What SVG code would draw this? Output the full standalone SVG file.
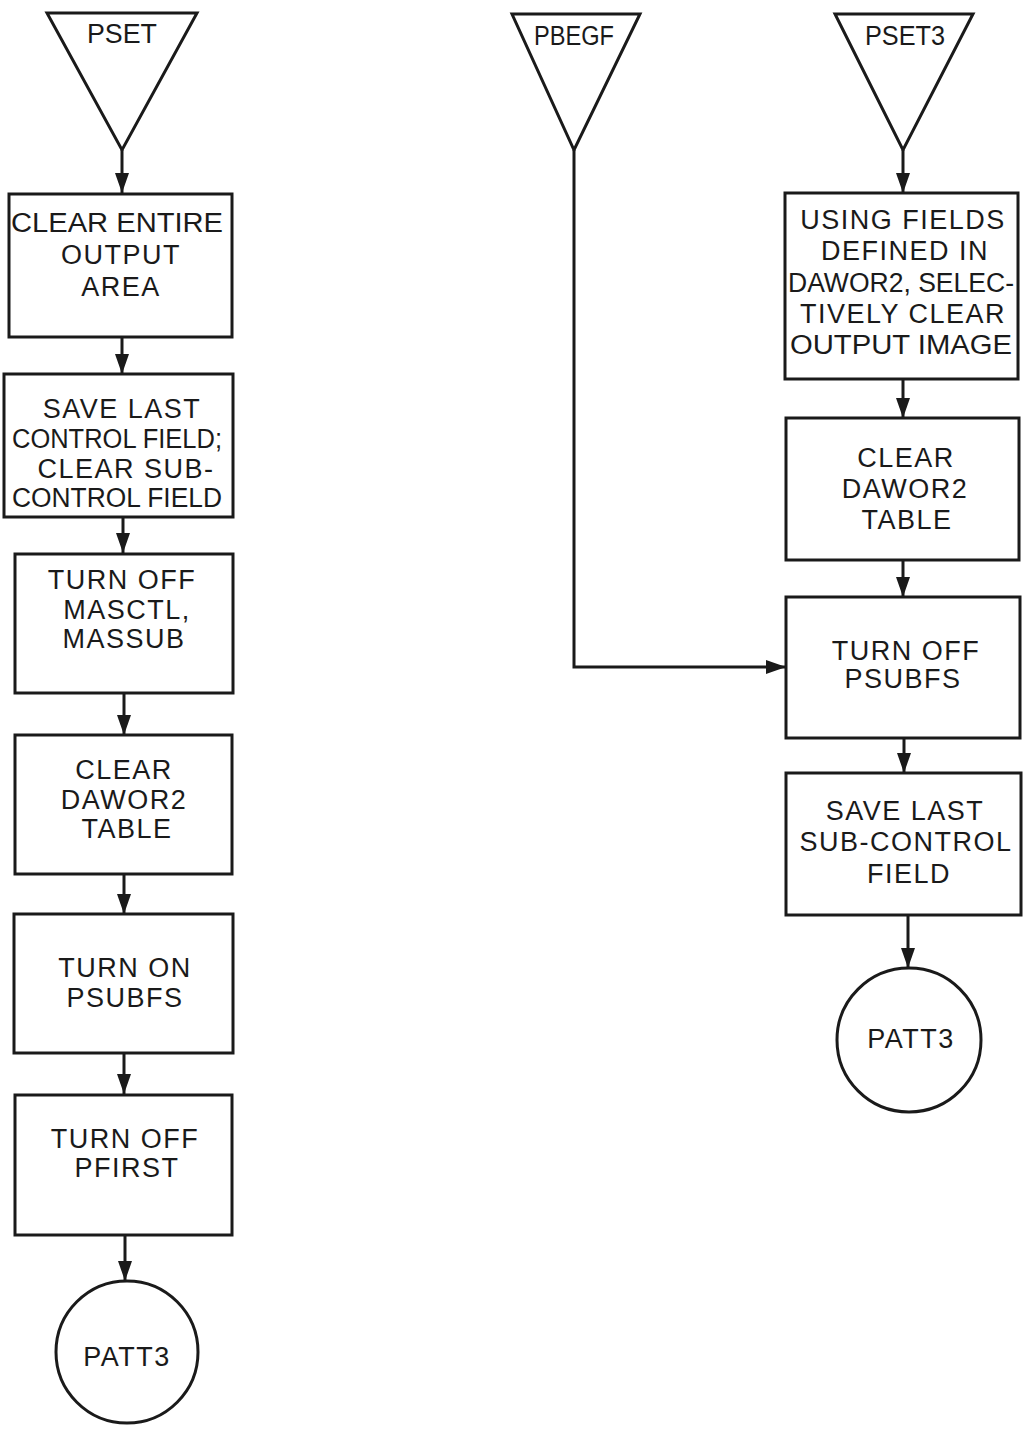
<svg xmlns="http://www.w3.org/2000/svg" width="1026" height="1434" viewBox="0 0 1026 1434">
<defs>
<style>
.shape{fill:#fff;stroke:#1a1a1a;stroke-width:3}
.conn{fill:none;stroke:#1a1a1a;stroke-width:3}
text{font-family:"Liberation Sans","DejaVu Sans",sans-serif;font-size:27px;fill:#1a1a1a;text-anchor:middle;letter-spacing:1.5px}
.fit{letter-spacing:0}
</style>
<marker id="ah" markerUnits="userSpaceOnUse" markerWidth="20" markerHeight="14" refX="20" refY="7" viewBox="0 0 20 14" orient="auto">
<path d="M0,0 L20,7 L0,14 Z" fill="#1a1a1a"/>
</marker>
</defs>
<rect width="1026" height="1434" fill="#fff"/>
<g id="connectors">
<line class="conn" x1="122" y1="150" x2="122" y2="193" marker-end="url(#ah)"/>
<line class="conn" x1="122" y1="337" x2="122" y2="374" marker-end="url(#ah)"/>
<line class="conn" x1="123" y1="517" x2="123" y2="553" marker-end="url(#ah)"/>
<line class="conn" x1="124" y1="693" x2="124" y2="735" marker-end="url(#ah)"/>
<line class="conn" x1="124" y1="874" x2="124" y2="914" marker-end="url(#ah)"/>
<line class="conn" x1="124" y1="1053" x2="124" y2="1094" marker-end="url(#ah)"/>
<line class="conn" x1="125" y1="1235" x2="125" y2="1281" marker-end="url(#ah)"/>
<polyline class="conn" points="574,150 574,667 786,667" marker-end="url(#ah)"/>
<line class="conn" x1="903" y1="150" x2="903" y2="193" marker-end="url(#ah)"/>
<line class="conn" x1="903" y1="379" x2="903" y2="418" marker-end="url(#ah)"/>
<line class="conn" x1="903" y1="560" x2="903" y2="597" marker-end="url(#ah)"/>
<line class="conn" x1="904" y1="738" x2="904" y2="773" marker-end="url(#ah)"/>
<line class="conn" x1="908" y1="915" x2="908" y2="968" marker-end="url(#ah)"/>
</g>
<g id="pset">
<polygon class="shape" points="47,13 197,13 122,150"/>
<text class="fit" x="122" y="43" textLength="70" lengthAdjust="spacingAndGlyphs">PSET</text>
</g>
<g id="pbegf">
<polygon class="shape" points="512,14 640,14 574,150"/>
<text class="fit" x="574" y="45" textLength="80" lengthAdjust="spacingAndGlyphs">PBEGF</text>
</g>
<g id="pset3">
<polygon class="shape" points="835,14 973,14 903,150"/>
<text class="fit" x="905" y="45" textLength="80" lengthAdjust="spacingAndGlyphs">PSET3</text>
</g>
<g id="box1">
<rect class="shape" x="9" y="194" width="223" height="143"/>
<text class="fit" x="117" y="232" textLength="212" lengthAdjust="spacingAndGlyphs">CLEAR ENTIRE</text>
<text x="121" y="264">OUTPUT</text>
<text x="121" y="296">AREA</text>
</g>
<g id="box2">
<rect class="shape" x="4" y="374" width="229" height="143"/>
<text x="122" y="418">SAVE LAST</text>
<text class="fit" x="117" y="448" textLength="210" lengthAdjust="spacingAndGlyphs">CONTROL FIELD;</text>
<text x="126" y="478">CLEAR SUB-</text>
<text class="fit" x="117" y="507" textLength="210" lengthAdjust="spacingAndGlyphs">CONTROL FIELD</text>
</g>
<g id="box3">
<rect class="shape" x="15" y="554" width="218" height="139"/>
<text x="122" y="589">TURN OFF</text>
<text x="127" y="619">MASCTL,</text>
<text x="124" y="648">MASSUB</text>
</g>
<g id="box4">
<rect class="shape" x="15" y="735" width="217" height="139"/>
<text x="124" y="779">CLEAR</text>
<text x="124" y="809">DAWOR2</text>
<text x="127" y="838">TABLE</text>
</g>
<g id="box5">
<rect class="shape" x="14" y="914" width="219" height="139"/>
<text x="125" y="977">TURN ON</text>
<text x="125" y="1007">PSUBFS</text>
</g>
<g id="box6">
<rect class="shape" x="15" y="1095" width="217" height="140"/>
<text x="125" y="1148">TURN OFF</text>
<text x="127" y="1177">PFIRST</text>
</g>
<g id="patt3-left">
<circle class="shape" cx="127" cy="1352" r="71"/>
<text x="127" y="1366">PATT3</text>
</g>
<g id="boxA">
<rect class="shape" x="785" y="193" width="233" height="186"/>
<text x="903" y="229">USING FIELDS</text>
<text x="905" y="260">DEFINED IN</text>
<text class="fit" x="901" y="292" textLength="226" lengthAdjust="spacingAndGlyphs">DAWOR2, SELEC-</text>
<text x="903" y="323">TIVELY CLEAR</text>
<text class="fit" x="901" y="354" textLength="222" lengthAdjust="spacingAndGlyphs">OUTPUT IMAGE</text>
</g>
<g id="boxB">
<rect class="shape" x="786" y="418" width="233" height="142"/>
<text x="906" y="467">CLEAR</text>
<text x="905" y="498">DAWOR2</text>
<text x="907" y="529">TABLE</text>
</g>
<g id="boxC">
<rect class="shape" x="786" y="597" width="234" height="141"/>
<text x="906" y="660">TURN  OFF</text>
<text x="903" y="688">PSUBFS</text>
</g>
<g id="boxD">
<rect class="shape" x="786" y="773" width="235" height="142"/>
<text x="905" y="820">SAVE LAST</text>
<text x="906" y="851">SUB-CONTROL</text>
<text x="909" y="883">FIELD</text>
</g>
<g id="patt3-right">
<circle class="shape" cx="909" cy="1040" r="72"/>
<text x="911" y="1048">PATT3</text>
</g>
</svg>
